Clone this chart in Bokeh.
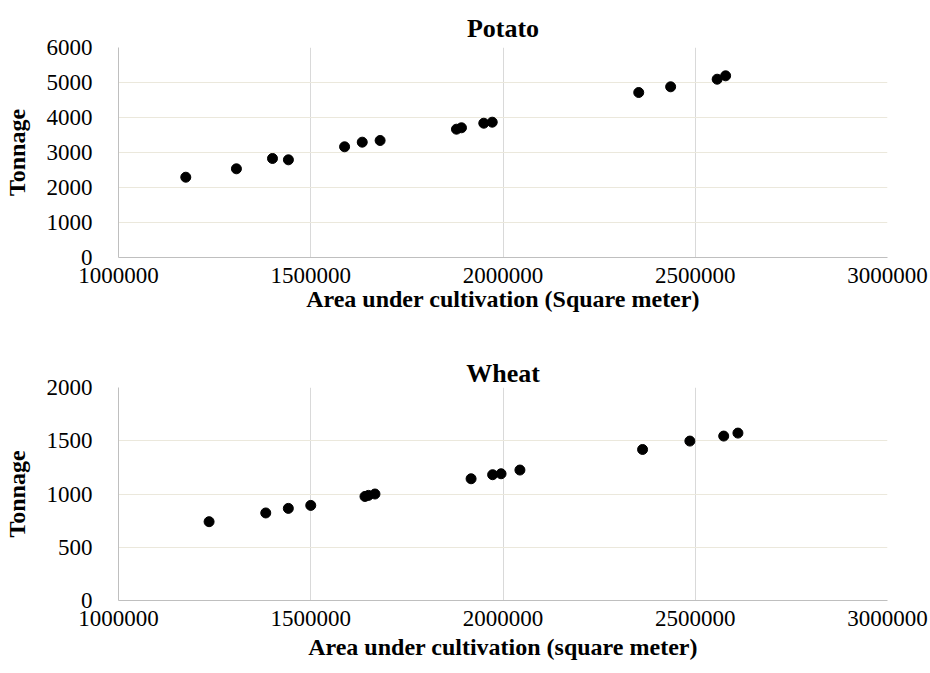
from bokeh.plotting import figure
from bokeh.layouts import column
from bokeh.models import Range1d, FixedTicker, BasicTickFormatter, ColumnDataSource
from bokeh.embed import file_html
from bokeh.resources import INLINE

# Potato data
potato_area = [1175000, 1306700, 1400500, 1441900, 1588000, 1633900, 1680400,
               1879000, 1892000, 1950000, 1972000, 2353000, 2436000, 2557000, 2579000]
potato_tonnage = [2294, 2534, 2829, 2791, 3163, 3295, 3343,
                  3666, 3706, 3837, 3866, 4714, 4877, 5094, 5191]

# Wheat data
wheat_area = [1235600, 1383000, 1441700, 1500000, 1641000, 1650000, 1667000,
              1917000, 1973000, 1995000, 2044000, 2363000, 2486000, 2574000, 2611000]
wheat_tonnage = [740, 822, 865, 893, 977, 987, 1000,
                 1143, 1181, 1190, 1225, 1418, 1497, 1544, 1572]

x_ticks = [1000000, 1500000, 2000000, 2500000, 3000000]
potato_y_ticks = [0, 1000, 2000, 3000, 4000, 5000, 6000]
wheat_y_ticks = [0, 500, 1000, 1500, 2000]

FONT = "Times New Roman"


def make_plot(title, xs, ys, yticks, ymax, xlabel, height, top, bottom, left,
              title_standoff, xlabel_standoff):
    p = figure(width=930, height=height, output_backend="svg", toolbar_location=None,
               x_range=Range1d(1000000, 3000000), y_range=Range1d(0, ymax),
               min_border_top=top, min_border_bottom=bottom, min_border_left=left,
               min_border_right=43, title=title)
    p.title.text_font = FONT
    p.title.text_font_size = "26px"
    p.title.text_font_style = "bold"
    p.title.align = "center"
    p.title.text_color = "black"
    p.title.standoff = title_standoff
    p.outline_line_color = None
    p.background_fill_color = "white"
    p.border_fill_color = "white"

    src = ColumnDataSource(dict(x=xs, y=ys))
    p.scatter("x", "y", source=src, size=10, color="black")

    xa = p.xaxis[0]
    ya = p.yaxis[0]
    xa.ticker = FixedTicker(ticks=x_ticks)
    ya.ticker = FixedTicker(ticks=yticks)
    xa.formatter = BasicTickFormatter(use_scientific=False)
    ya.formatter = BasicTickFormatter(use_scientific=False)
    for ax in (xa, ya):
        ax.major_tick_line_color = None
        ax.minor_tick_line_color = None
        ax.axis_line_color = "#bfbfbf"
        ax.major_label_text_font_size = "23px"
        ax.major_label_text_color = "black"
        ax.axis_label_text_font = FONT
        ax.axis_label_text_font_size = "24px"
        ax.axis_label_text_font_style = "bold"
        ax.axis_label_text_color = "black"
    p.xaxis.major_label_text_font = FONT
    p.yaxis.major_label_text_font = FONT
    xa.axis_label = xlabel
    ya.axis_label = "Tonnage"
    xa.major_label_standoff = 4
    xa.axis_label_standoff = xlabel_standoff
    ya.major_label_standoff = 20
    ya.axis_label_standoff = 14

    p.xgrid.grid_line_color = "#d9d9d9"
    p.ygrid.grid_line_color = "#ebe8dc"
    return p


p1 = make_plot("Potato", potato_area, potato_tonnage, potato_y_ticks, 6000,
               "Area under cultivation (Square meter)", 336, 47, 79, 113, 9, 0)
p2 = make_plot("Wheat", wheat_area, wheat_tonnage, wheat_y_ticks, 2000,
               "Area under cultivation (square meter)", 337, 51, 73, 111, 0, 5)

layout = column(p1, p2)
open("out.html", "w").write(file_html(layout, INLINE))
